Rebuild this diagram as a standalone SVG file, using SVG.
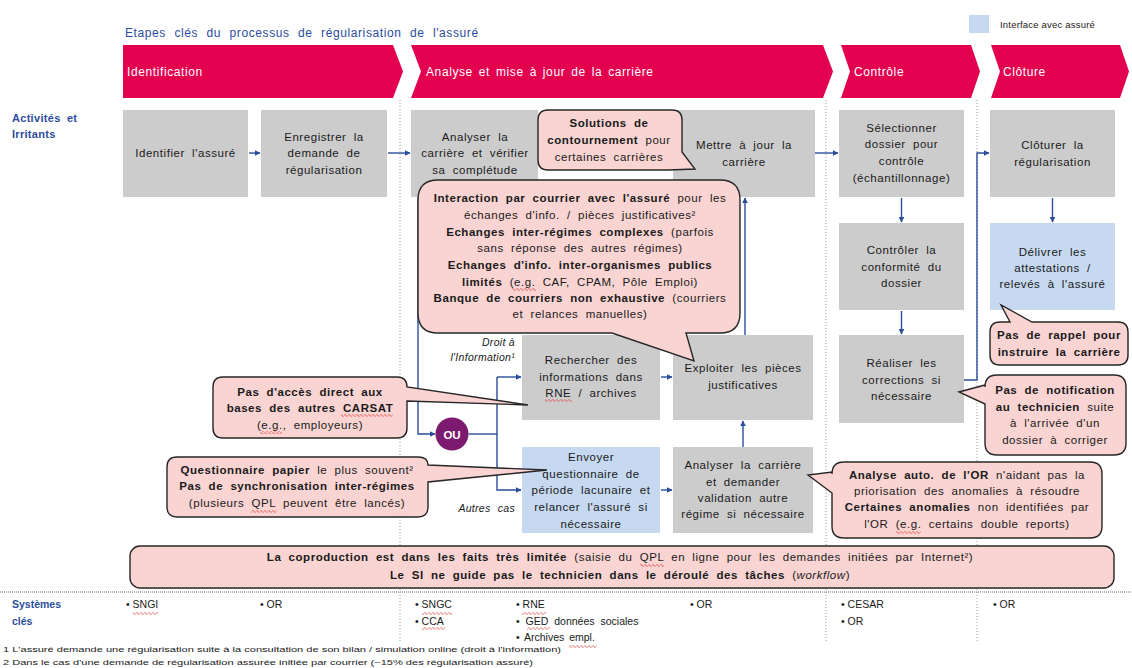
<svg xmlns="http://www.w3.org/2000/svg" width="1132" height="668" viewBox="0 0 1132 668">
<style>
.sans{font-family:"Liberation Sans",Arial,sans-serif}
.box{fill:#cccccc}
.ia{fill:#c6d9f1}
.t{font-family:"Liberation Sans",Arial,sans-serif;font-size:11.5px;fill:#1a1a1a;text-anchor:middle;letter-spacing:0.55px;word-spacing:3.5px}
.b{font-weight:bold}
.i{font-style:italic}
.bub{fill:#f9d4d2;stroke:#262626;stroke-width:1.4}
.cn{stroke:#2a4d9c;stroke-width:1.4;fill:none}
.arr{marker-end:url(#ah)}
.chev{fill:#e3004f}
.ct{font-family:"Liberation Sans",Arial,sans-serif;font-size:12px;fill:#ffffff;letter-spacing:0.6px;word-spacing:2px}
.blue{font-family:"Liberation Sans",Arial,sans-serif;fill:#2d4c9e}
.sep{stroke:#9a9a9a;stroke-width:1;stroke-dasharray:1 2}
.sys{font-family:"Liberation Sans",Arial,sans-serif;font-size:10.5px;fill:#1a1a1a}
.fn{font-family:"Liberation Sans",Arial,sans-serif;font-size:8px;fill:#1a1a1a}
.sq{fill:url(#wave)}
</style>
<defs>
<marker id="ah" viewBox="0 0 10 10" refX="9" refY="5" markerWidth="6" markerHeight="6" orient="auto" markerUnits="userSpaceOnUse">
<path d="M0,0 L10,5 L0,10 Z" fill="#2a4d9c"/>
</marker>
<pattern id="wave" x="0" y="0" width="4" height="3" patternUnits="userSpaceOnUse">
<path d="M0,1.5 L1,0.5 L3,2.5 L4,1.5" fill="none" stroke="#e0302a" stroke-width="0.8"/>
</pattern>
</defs>

<rect width="1132" height="668" fill="#ffffff"/>

<g id="header">
<text class="blue" x="125" y="37" font-size="12" letter-spacing="0.6" word-spacing="4.5">Etapes clés du processus  de régularisation  de l'assuré</text>
<rect x="969" y="15" width="20" height="18" fill="#c6d9f1"/>
<text class="sans" x="1000" y="28" font-size="9.5" fill="#1a1a1a" letter-spacing="0.2">Interface avec assuré</text>
</g>

<g id="phases">
<polygon class="chev" points="123,45 393,45 403,71.5 393,98 123,98"/>
<polygon class="chev" points="411,45 823,45 833,71.5 823,98 411,98 421,71.5"/>
<polygon class="chev" points="841,45 971,45 980,71.5 971,98 841,98 850,71.5"/>
<polygon class="chev" points="991,45 1120,45 1129,71.5 1120,98 991,98 1000,71.5"/>
<text class="ct" x="127" y="76">Identification</text>
<text class="ct" x="426" y="76">Analyse  et mise à jour de la carrière</text>
<text class="ct" x="854" y="76">Contrôle</text>
<text class="ct" x="1003" y="76">Clôture</text>
</g>

<g id="separators">
<line class="sep" x1="400" y1="100" x2="400" y2="642"/>
<line class="sep" x1="826" y1="100" x2="826" y2="642"/>
<line class="sep" x1="977" y1="100" x2="977" y2="642"/>
<line x1="0" y1="592" x2="1132" y2="592" stroke="#9a9a9a" stroke-width="1.6" stroke-dasharray="1 1"/>
</g>

<g id="row-labels">
<text class="blue b" x="12" y="122" font-size="11" letter-spacing="0.3" word-spacing="3">Activités et</text>
<text class="blue b" x="12" y="138" font-size="11" letter-spacing="0.3">Irritants</text>
<text class="blue b" x="12" y="608" font-size="10.5">Systèmes</text>
<text class="blue b" x="12" y="625" font-size="10.5">clés</text>
</g>

<g id="n-identifier">
<rect class="box" x="123" y="110" width="125" height="87"/>
<text class="t" x="185.5" y="157">Identifier  l'assuré</text>
</g>
<g id="n-enregistrer">
<rect class="box" x="261" y="110" width="126" height="87"/>
<text class="t" x="324" y="141">Enregistrer  la</text>
<text class="t" x="324" y="157">demande   de</text>
<text class="t" x="324" y="174">régularisation</text>
</g>
<g id="n-analyser">
<rect class="box" x="411" y="110" width="127" height="87"/>
<text class="t" x="475" y="141">Analyser  la</text>
<text class="t" x="475" y="157">carrière et vérifier</text>
<text class="t" x="475" y="174">sa complétude</text>
</g>
<g id="n-mettre">
<rect class="box" x="673" y="110" width="142" height="87"/>
<text class="t" x="744" y="149">Mettre à jour la</text>
<text class="t" x="744" y="166">carrière</text>
</g>
<g id="n-selectionner">
<rect class="box" x="839" y="110" width="125" height="87"/>
<text class="t" x="901.5" y="132">Sélectionner</text>
<text class="t" x="901.5" y="148">dossier pour</text>
<text class="t" x="901.5" y="165">contrôle</text>
<text class="t" x="901.5" y="182">(échantillonnage)</text>
</g>
<g id="n-controler">
<rect class="box" x="839" y="223" width="125" height="87"/>
<text class="t" x="901.5" y="254">Contrôler  la</text>
<text class="t" x="901.5" y="271">conformité  du</text>
<text class="t" x="901.5" y="287">dossier</text>
</g>
<g id="n-realiser">
<rect class="box" x="839" y="335" width="125" height="88"/>
<text class="t" x="901.5" y="367">Réaliser  les</text>
<text class="t" x="901.5" y="384">corrections  si</text>
<text class="t" x="901.5" y="400">nécessaire</text>
</g>
<g id="n-cloturer">
<rect class="box" x="990" y="110" width="125" height="87"/>
<text class="t" x="1052.5" y="149">Clôturer  la</text>
<text class="t" x="1052.5" y="166">régularisation</text>
</g>
<g id="n-delivrer">
<rect class="ia" x="990" y="223" width="125" height="87"/>
<text class="t" x="1052.5" y="256">Délivrer  les</text>
<text class="t" x="1052.5" y="272">attestations   /</text>
<text class="t" x="1052.5" y="288">relevés  à l'assuré</text>
</g>
<g id="n-rechercher">
<rect class="box" x="522" y="335" width="138" height="85"/>
<text class="t" x="591" y="364">Rechercher   des</text>
<text class="t" x="591" y="381">informations   dans</text>
<text class="t" x="591" y="397">RNE / archives</text>
<rect class="sq" x="545" y="399" width="27" height="3"/>
</g>
<g id="n-exploiter">
<rect class="box" x="673" y="335" width="140" height="85"/>
<text class="t" x="743" y="372">Exploiter  les pièces</text>
<text class="t" x="743" y="389">justificatives</text>
</g>
<g id="n-envoyer">
<rect class="ia" x="522" y="447" width="138" height="86"/>
<text class="t" x="591" y="461">Envoyer</text>
<text class="t" x="591" y="478">questionnaire  de</text>
<text class="t" x="591" y="494">période  lacunaire  et</text>
<text class="t" x="591" y="511">relancer  l'assuré si</text>
<text class="t" x="591" y="528">nécessaire</text>
</g>
<g id="n-analyser2">
<rect class="box" x="673" y="447" width="140" height="86"/>
<text class="t" x="743" y="469">Analyser  la carrière</text>
<text class="t" x="743" y="486">et demander</text>
<text class="t" x="743" y="502">validation  autre</text>
<text class="t" x="743" y="518">régime si nécessaire</text>
</g>
<g id="n-ou">
<circle cx="452" cy="434" r="16.5" fill="#7b1a6e"/>
<text class="sans b" x="452" y="438.5" font-size="11.5" fill="#ffffff" text-anchor="middle">OU</text>
</g>

<g id="connectors">
<path class="cn arr" d="M249,153 H260"/>
<path class="cn arr" d="M388,153 H410"/>
<path class="cn arr" d="M815,153 H838"/>
<path class="cn arr" d="M901.5,198 V222"/>
<path class="cn arr" d="M901.5,311 V334"/>
<path class="cn arr" d="M964,380 H977 V153 H989"/>
<path class="cn arr" d="M1052.5,198 V222"/>
<path class="cn arr" d="M418,197 V434 H435"/>
<path class="cn" d="M468.5,434 H497"/>
<path class="cn arr" d="M497,377 V490 H521"/>
<path class="cn arr" d="M497,377 H521"/>
<path class="cn arr" d="M661,377 H672"/>
<path class="cn arr" d="M661,490 H672"/>
<path class="cn arr" d="M743,447 V421"/>
<path class="cn arr" d="M745,335 V198"/>
<text class="sans i" x="515" y="346" font-size="10.5" fill="#1a1a1a" text-anchor="end" letter-spacing="0.3">Droit à</text>
<text class="sans i" x="515" y="361" font-size="10.5" fill="#1a1a1a" text-anchor="end" letter-spacing="0.3">l'Information¹</text>
<text class="sans i" x="515" y="512" font-size="10.5" fill="#1a1a1a" text-anchor="end" letter-spacing="0.3" word-spacing="4">Autres cas</text>
</g>

<g id="b-solutions">
<path class="bub" d="M548,110 H672 Q682,110 682,120 V152 L695,169 L668,170 H548 Q538,170 538,160 V120 Q538,110 548,110 Z"/>
<text class="t b" x="609" y="127">Solutions  de</text>
<text class="t" x="609" y="144"><tspan class="b">contournement</tspan> pour</text>
<text class="t" x="609" y="161">certaines  carrières</text>
</g>

<g id="b-interaction">
<path class="bub" d="M438,180 H720 Q740,180 740,200 V313 Q740,333 720,333 H686 L694,361 L612,333 H438 Q418,333 418,313 V200 Q418,180 438,180 Z"/>
<text class="t" x="580" y="202"><tspan class="b">Interaction  par courrier  avec l'assuré</tspan>  pour les</text>
<text class="t" x="580" y="219">échanges  d'info. / pièces  justificatives²</text>
<text class="t" x="580" y="236"><tspan class="b">Echanges  inter-régimes  complexes</tspan>  (parfois</text>
<text class="t" x="580" y="252">sans  réponse  des autres  régimes)</text>
<text class="t b" x="580" y="269">Echanges  d'info. inter-organismes   publics</text>
<text class="t" x="580" y="286"><tspan class="b">limités</tspan>  (e.g. CAF, CPAM,  Pôle  Emploi)</text>
<text class="t" x="580" y="302"><tspan class="b">Banque de courriers  non exhaustive</tspan>  (courriers</text>
<text class="t" x="580" y="318">et relances  manuelles)</text>
<rect class="sq" x="512" y="288" width="24" height="3"/>
</g>

<g id="b-acces">
<path class="bub" d="M223,377 H397 Q407,377 407,387 L528,405 L407,401 V428 Q407,438 397,438 H223 Q213,438 213,428 V387 Q213,377 223,377 Z"/>
<text class="t b" x="310" y="396">Pas  d'accès  direct aux</text>
<text class="t b" x="310" y="412">bases  des autres  CARSAT</text>
<text class="t" x="310" y="429">(e.g., employeurs)</text>
<rect class="sq" x="341" y="414" width="52" height="3"/>
<rect class="sq" x="260" y="431" width="22" height="3"/>
</g>

<g id="b-questionnaire">
<path class="bub" d="M177,457 H418 Q428,457 428,465 L547,470 L428,482 V507 Q428,517 418,517 H177 Q167,517 167,507 V467 Q167,457 177,457 Z"/>
<text class="t" x="297" y="474"><tspan class="b">Questionnaire   papier</tspan> le plus souvent²</text>
<text class="t b" x="297" y="490">Pas de synchronisation   inter-régimes</text>
<text class="t" x="297" y="507">(plusieurs  QPL  peuvent  être lancés)</text>
<rect class="sq" x="251" y="510" width="26" height="3"/>
</g>

<g id="b-rappel">
<path class="bub" d="M1000,322 H1010 L1001,305 L1032,322 H1118 Q1128,322 1128,332 V355 Q1128,365 1118,365 H1000 Q990,365 990,355 V332 Q990,322 1000,322 Z"/>
<text class="t b" x="1059" y="339">Pas  de rappel  pour</text>
<text class="t b" x="1059" y="356">instruire  la carrière</text>
</g>

<g id="b-notification">
<path class="bub" d="M997,375 H1114 Q1126,375 1126,387 V443 Q1126,455 1114,455 H997 Q985,455 985,443 V404 L959,392 L985,385 V387 Q985,375 997,375 Z"/>
<text class="t b" x="1055" y="394">Pas  de notification</text>
<text class="t" x="1055" y="411"><tspan class="b">au technicien</tspan>  suite</text>
<text class="t" x="1055" y="427">à l'arrivée  d'un</text>
<text class="t" x="1055" y="444">dossier  à corriger</text>
</g>

<g id="b-analyse">
<path class="bub" d="M844,462 H1090 Q1102,462 1102,474 V526 Q1102,538 1090,538 H844 Q832,538 832,526 V493 L808,475 L832,472 V474 Q832,462 844,462 Z"/>
<text class="t" x="967" y="479"><tspan class="b">Analyse  auto.  de l'OR</tspan> n'aidant  pas  la</text>
<text class="t" x="967" y="495">priorisation  des anomalies  à résoudre</text>
<text class="t" x="967" y="511"><tspan class="b">Certaines  anomalies</tspan>  non identifiées  par</text>
<text class="t" x="967" y="528">l'OR (e.g. certains  double  reports)</text>
<rect class="sq" x="896" y="531" width="25" height="3"/>
</g>

<g id="b-coproduction">
<rect class="bub" x="130" y="546" width="984" height="42" rx="10"/>
<text class="t" x="620" y="561" font-size="10.5" letter-spacing="0.3" word-spacing="3"><tspan class="b">La coproduction  est dans les faits très limitée</tspan>  (saisie du QPL en ligne pour les demandes  initiées par Internet²)</text>
<text class="t" x="620" y="579" font-size="10.5" letter-spacing="0.45" word-spacing="3"><tspan class="b">Le SI ne guide pas le technicien  dans le déroulé des tâches</tspan> (<tspan class="i">workflow</tspan>)</text>
<rect class="sq" x="640" y="564" width="24" height="3"/>
</g>

<g id="systems">
<text class="sys" x="126" y="608">• SNGI</text>
<text class="sys" x="260" y="608">• OR</text>
<text class="sys" x="415" y="608">• SNGC</text>
<text class="sys" x="415" y="625">• CCA</text>
<text class="sys" x="516" y="608">• RNE</text>
<text class="sys" x="516" y="625" word-spacing="3">• GED données  sociales</text>
<text class="sys" x="516" y="641" word-spacing="2">• Archives  empl.</text>
<text class="sys" x="690" y="608">• OR</text>
<text class="sys" x="841" y="608">• CESAR</text>
<text class="sys" x="841" y="625">• OR</text>
<text class="sys" x="993" y="608">• OR</text>
<rect class="sq" x="133" y="612" width="25" height="3"/>
<rect class="sq" x="422" y="612" width="30" height="3"/>
<rect class="sq" x="422" y="627" width="23" height="3"/>
<rect class="sq" x="522" y="612" width="24" height="3"/>
<rect class="sq" x="527" y="627" width="23" height="3"/>
<rect class="sq" x="569" y="645" width="28" height="3"/>
</g>

<g id="footnotes">
<text class="fn" x="3" y="652" textLength="558" lengthAdjust="spacingAndGlyphs">1 L'assuré demande une régularisation suite à la consultation de son bilan / simulation online (droit à l'information)</text>
<text class="fn" x="3" y="665" textLength="530" lengthAdjust="spacingAndGlyphs">2 Dans le cas d'une demande de régularisation assurée initiée par courrier (~15% des régularisation assuré)</text>
</g>
</svg>
